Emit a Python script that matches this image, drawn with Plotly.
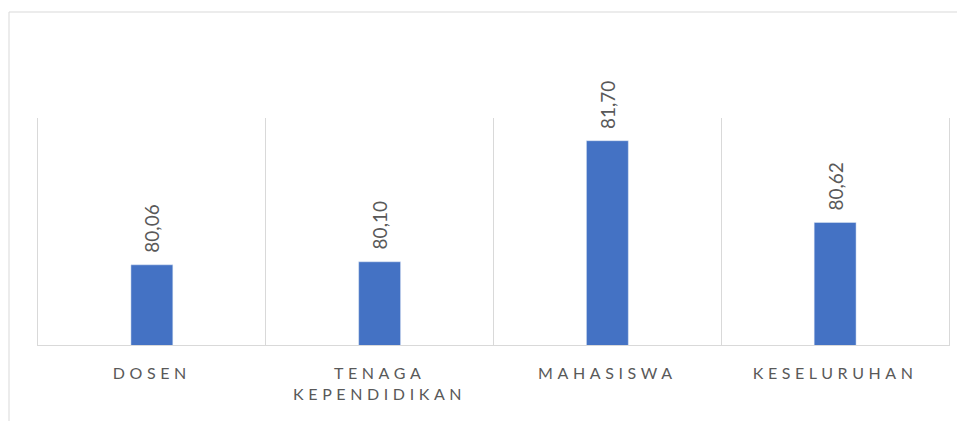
import plotly.graph_objects as go

categories = ["DOSEN", "TENAGA<br>KEPENDIDIKAN", "MAHASISWA", "KESELURUHAN"]
values = [80.06, 80.10, 81.70, 80.62]
y_range = [79, 82]

label_color = "#595959"
grid_color = "#d9d9d9"
bar_color = "#4472c4"

def spaced(t):
    return "<br>".join('<span style="letter-spacing:4.6px">%s</span>' % p for p in t.split("<br>"))

fig = go.Figure()
fig.add_trace(go.Bar(
    x=categories, y=values, marker_color=bar_color, width=0.184,
    hoverinfo="skip",
))

for c, v in zip(categories, values):
    fig.add_annotation(
        x=c, y=v, xref="x", yref="y", text=("%.2f" % v).replace(".", ","),
        textangle=-90, showarrow=False, yanchor="bottom", xanchor="center",
        yshift=10, font=dict(family="Lato, Noto Sans, sans-serif", size=19, color=label_color),
    )

W, H = 965, 421
fig.update_layout(
    width=W, height=H,
    margin=dict(l=30, r=24, t=110, b=84),
    paper_bgcolor="white", plot_bgcolor="white",
    showlegend=False,
    bargap=0.8,
    separators=",.",
    font=dict(family="Lato, Noto Sans, sans-serif", color=label_color),
)
fig.update_xaxes(
    type="category", tickson="boundaries", showgrid=True, gridcolor=grid_color, gridwidth=1,
    showline=True, linecolor=grid_color, linewidth=1, ticks="",
    tickvals=categories, ticktext=[spaced(c) for c in categories],
    tickfont=dict(size=16, color=label_color), range=[-0.5, len(categories) - 0.5],
    ticklabelstandoff=14,
)
fig.update_yaxes(range=y_range, showgrid=False, showticklabels=False, zeroline=False,
                 showline=True, linecolor=grid_color, linewidth=1, mirror=True)

fig.add_shape(type="rect", xref="paper", yref="paper",
              x0=(1 - 30) / 911, x1=(975 - 30) / 911,
              y0=-(440 - 337) / 227, y1=(337 - 4) / 227,
              line=dict(color=grid_color, width=1), fillcolor="rgba(0,0,0,0)", layer="below")

fig.write_html("out.html")
